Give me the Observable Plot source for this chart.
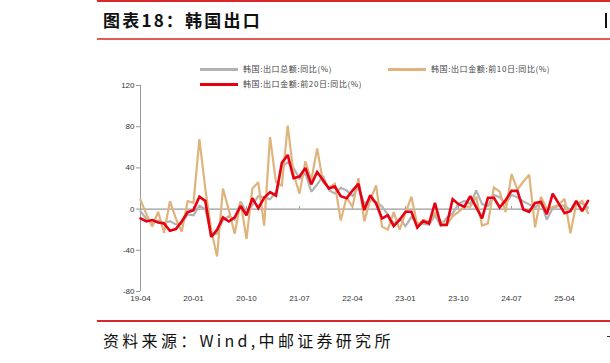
<!DOCTYPE html>
<html>
<head>
<meta charset="utf-8">
<script src="https://cdn.jsdelivr.net/npm/d3@7"></script>
<script src="https://cdn.jsdelivr.net/npm/@observablehq/plot@0.6"></script>
<style>
  html, body { margin: 0; padding: 0; background: #fff; }
  body { width: 610px; height: 363px; overflow: hidden; position: relative; }
  .abs { position: absolute; }
  .rule { position: absolute; background: #d9272e; }
  .title { font-family: "Noto Sans CJK SC", sans-serif; font-weight: 700; font-size: 17px; letter-spacing: 2.2px; color: #111; white-space: nowrap; line-height: 20px; }
  .source { font-family: "Noto Sans CJK SC", sans-serif; font-weight: 400; font-size: 16px; letter-spacing: 3.3px; color: #111; white-space: nowrap; line-height: 20px; }
  .leg { font-family: "Noto Sans CJK SC", sans-serif; font-size: 8px; color: #444; white-space: nowrap; line-height: 10px; letter-spacing: 0.6px; }
  .legline { position: absolute; height: 3px; }
  #chart { position: absolute; left: 0; top: 0; }
</style>
</head>
<body>
<div class="rule" style="left:97px;top:0px;width:513px;height:2px;"></div>
<div class="abs title" style="left:103px;top:10px;">图表18：韩国出口</div>
<div class="abs" style="left:605px;top:13px;width:2px;height:15px;background:#111;"></div>
<div class="rule" style="left:97px;top:38px;width:513px;height:2px;background:#e25a5a;"></div>
<div id="chart"></div>
<div id="legend"></div>
<div class="rule" style="left:97px;top:320px;width:513px;height:2px;"></div>
<div class="abs source" style="left:103px;top:330px;">资料来源：Wind,中邮证券研究所</div>
<div class="abs" style="left:607px;top:336px;width:3px;height:1px;background:#333;"></div>
<script>
// Month categories: first month of the series
const startYear = 2019, startMonth = 4;
const xTickLabels = ["19-04","20-01","20-10","21-07","22-04","23-01","23-10","24-07","25-04"];
const yTicks = [-80, -40, 0, 40, 80, 120];

// 韩国:出口总额:同比(%)
const totalYoY = [-2,-9.5,-13.7,-11,-13.6,-11.7,-14.8,-14.3,-5.2,-6.1,3.3,-0.2,-25.5,-23.7,-10.9,-7,-10.3,7.3,-3.6,4.1,
  12.6,11.4,9.5,16.6,41.1,45.6,39.7,29.6,34.9,16.9,24,32.1,18.3,15.2,20.6,18.2,12.9,21.3,5.4,9.4,
  6.6,2.8,-5.7,-14,-9.5,-16.6,-7.5,-13.6,-14.2,-15.2,-6,-16.2,-8.4,-4.4,5.1,7.8,5.1,18,4.8,3.1,
  13.8,11.5,5.1,13.9,11.4,7.5,4.6,1.4,6.6,-10.2,1,3,3.7,-1.3,4.3,5.9,1.3];
// 韩国:出口金额:前10日:同比(%)
const first10YoY = [9,-5,-17,-2.6,-23,7.7,-9,-22,7.7,6,68,20,-20,-46,20,-1,-24,7,-29,20,
  26,-16,70,26,23,81,34,15,46.5,28,59,26,21,24.5,-11,11.6,2,30,-12,8.7,
  23,-17,-20,-3,-20,-4,12,-15.5,-10.6,-12,-4,-12,-15.5,-7,-2.6,2.3,2.3,12,-16,-14,
  21,17,-3,34,19,26.5,33.5,-17.7,12,0,2,4,10,-23.5,5,8,-4];
// 韩国:出口金额:前20日:同比(%)
const first20YoY = [-9,-12,-10.6,-13,-14,-21,-19.4,-12,-3,-1,12,8,-27,-20,-8,-12,-8,3,-6,10.5,
  1,11,16.5,13,45,52.6,30,31.6,40,24,36,28,20,22,12.6,10.6,18,24.5,-1,13.5,
  5.5,-9,-6,-16.5,-10.6,-2.6,-2.6,-18,-11.6,-14,6,-15.5,-15.5,9.7,4.8,2.3,12.6,2,-9,11,
  11,1.6,8.7,17.7,17.7,-0.3,-2.6,6,7,-5,15,5.5,-4,-2,8,-2,8];

const seriesNames = ["韩国:出口总额:同比(%)", "韩国:出口金额:前10日:同比(%)", "韩国:出口金额:前20日:同比(%)"];
const seriesColors = ["#b2b2b2", "#dfb47c", "#e60012"];
const seriesWidths = [2.2, 2.2, 2.6];

const n = first20YoY.length;
const monthLabel = i => {
  const m0 = startMonth - 1 + i;
  const y = startYear + Math.floor(m0 / 12);
  const m = (m0 % 12) + 1;
  return String(y % 100).padStart(2, "0") + "-" + String(m).padStart(2, "0");
};
const months = d3.range(n).map(monthLabel);
const xTicks = xTickLabels.map(l => months.indexOf(l));

const toRows = arr => arr.map((v, i) => ({i, v}));
const allSeries = [totalYoY, first10YoY, first20YoY];

const chart = Plot.plot({
  width: 610,
  height: 363,
  marginTop: 85,
  marginBottom: 72,
  marginLeft: 140,
  marginRight: 22,
  x: {type: "linear", domain: [0, n - 1], range: [140, 140 + (n - 1) * 5.889], label: null},
  y: {domain: [-80, 120], range: [291, 85], label: null},
  style: {fontFamily: "'Liberation Sans', Arial, sans-serif", fontSize: "8px", background: "transparent", color: "#333"},
  marks: [
    Plot.ruleX([0], {y1: -80, y2: 120, stroke: "#999", strokeWidth: 1}),
    Plot.axisY({ticks: yTicks, tickSize: 4, tickPadding: 2, tickFormat: d => String(d), stroke: "#999", fill: "#333", label: null}),
    Plot.ruleY([0], {x1: 0, x2: n - 1, stroke: "#9a9a9a", strokeWidth: 1.3}),
    Plot.ruleX(xTicks, {x: d => d, y1: 0, y2: 2.5, stroke: "#999"}),
    Plot.axisX({ticks: xTicks, tickSize: 0, tickPadding: 4, tickFormat: i => months[i], fill: "#333", label: null}),
    ...allSeries.map((arr, k) => Plot.line(toRows(arr), {x: "i", y: "v", stroke: seriesColors[k], strokeWidth: seriesWidths[k], strokeLinejoin: "miter", strokeMiterlimit: 2}))
  ]
});
document.getElementById("chart").appendChild(chart);

// legend
const legendPos = [[200, 64], [388, 64], [200, 79]];
const legend = document.getElementById("legend");
seriesNames.forEach((name, k) => {
  const [lx, ly] = legendPos[k];
  const line = document.createElement("div");
  line.className = "legline";
  line.style.left = lx + "px";
  line.style.top = (ly + 3.5) + "px";
  line.style.width = "38px";
  line.style.background = seriesColors[k];
  legend.appendChild(line);
  const t = document.createElement("div");
  t.className = "abs leg";
  t.style.left = (lx + 43) + "px";
  t.style.top = ly + "px";
  t.textContent = name;
  legend.appendChild(t);
});
</script>
</body>
</html>
